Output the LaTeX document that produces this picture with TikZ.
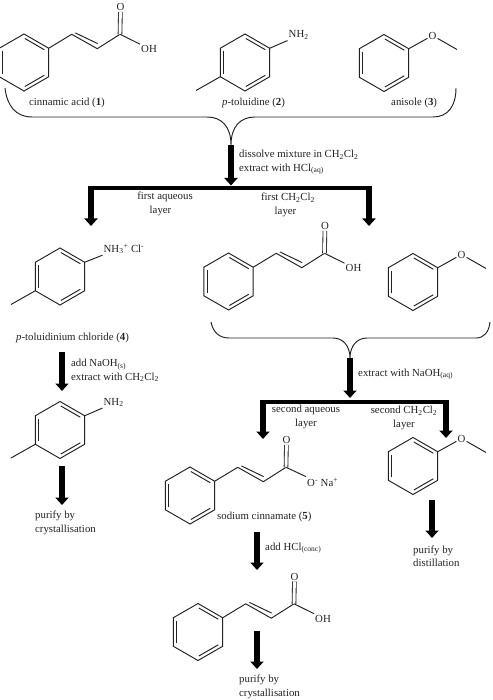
\documentclass[tikz,border=0pt]{standalone}
\usepackage{fontspec}
\setmainfont{Liberation Serif}
\usepackage{xcolor}
\definecolor{clInk}{HTML}{222222}
\usetikzlibrary{arrows.meta}
\newcommand{\sbs}[1]{\textsubscript{#1}}
\newcommand{\sps}[1]{\textsuperscript{#1}}
\tikzset{
  bond/.style={draw=clInk, line width=0.95pt, line join=miter},
  inner/.style={bond, shorten <=1pt, shorten >=1pt},
  carbonyl/.style={draw=clInk, line width=0.85pt, double, double distance=2.9pt},
  atom/.style={inner sep=1pt, text=clInk, font=\fontsize{10.8}{13}\selectfont},
  chemlabel/.style={anchor=west, inner sep=0pt, align=left, text=clInk, font=\fontsize{10.8}{13.5}\selectfont},
  midlabel/.style={chemlabel, anchor=center, align=center},
  brace/.style={draw=clInk, line width=0.95pt},
  fat/.style={line width=6.5pt, -{Triangle[length=7.5pt,width=13pt]}},
  busbar/.style={line width=4.5pt, line cap=square, shorten <=-1pt, shorten >=-1pt},
  busdrop/.style={fat, shorten <=-2.25pt},
  pics/benzring/.style={code={
    \draw[bond] (0,-28.5) -- (24.7,-14.25) -- (24.7,14.25) -- (0,28.5) -- (-24.7,14.25) -- (-24.7,-14.25) -- cycle;
    \draw[inner] (0,-24.5) -- (21.2,-12.25);
    \draw[inner] (21.2,12.25) -- (0,24.5);
    \draw[inner] (-21.2,12.25) -- (-21.2,-12.25);
  }},
  pics/cinnamyl/.style={code={
    \pic {benzring};
    \coordinate (-c) at (96,-28.2);
    \node[atom] (-oxy) at (96.5,-55.5) {O};
    \node[atom, anchor=west] (-tail) at (116,-13.5) {#1};
    \draw[bond] (24.7,-14.25) -- (47.7,-28.2) -- (73.3,-13.8) -- (-c);
    \draw[inner] (50.5,-30) -- (74.5,-18.5);
    \draw[carbonyl] (-c) -- (-oxy);
    \draw[bond] (-c) -- (-tail.north west);
  }},
  pics/toluidine/.style={code={
    \pic {benzring};
    \node[atom, anchor=west] (-amine) at (42.5,-27.5) {#1};
    \draw[bond] (-24.7,14.25) -- (-49,28);
    \draw[bond] (24.7,-14.25) -- (-amine.south west);
  }},
  pics/anisole/.style={code={
    \pic {benzring};
    \node[atom] (-oxy) at (48.5,-27.5) {O};
    \coordinate (-me) at (73,-13.5);
    \draw[bond] (24.7,-14.25) -- (-oxy);
    \draw[bond] (-oxy) -- (-me);
  }},
}
\begin{document}
\begin{tikzpicture}[x=1pt, y=-1pt]
  \useasboundingbox (0,0) rectangle (492,700);
  % starting mixture
  \pic (acidA) at (24,62.5) {cinnamyl=OH};
  \pic (amineA) at (245,62.5) {toluidine={NH\sbs{2}}};
  \pic (etherA) at (384,63) {anisole};
  \node[chemlabel] (lblAcid) at (29,103) {cinnamic acid (\textbf{1})};
  \node[chemlabel] (lblAmine) at (222,103) {\textit{p}-toluidine (\textbf{2})};
  \node[chemlabel] (lblEther) at (391,103) {anisole (\textbf{3})};
  \coordinate (tipA) at (231,145);
  \draw[brace] (5,88) .. controls (7,106) and (16,117) .. (32,117) -- (207,117)
    .. controls (222,117) and (231,127) .. (tipA)
    .. controls (231,127) and (240,117) .. (255,117) -- (433,117)
    .. controls (448,117) and (456,106) .. (456,88);
  % first extraction
  \coordinate (busAl) at (91,188);
  \coordinate (busAr) at (369,188);
  \coordinate (dropAl) at (91,226);
  \coordinate (dropAr) at (369,226);
  \draw[busbar] (busAl) -- (busAr);
  \draw[fat] (tipA) -- (231,185.5);
  \draw[busdrop] (busAl) -- (dropAl);
  \draw[busdrop] (busAr) -- (dropAr);
  \node[chemlabel] (stepDissolve) at (239,155) {dissolve mixture in CH\sbs{2}Cl\sbs{2}};
  \node[chemlabel] (stepAcid) at (239,169) {extract with HCl\sbs{(aq)}};
  \node[midlabel] (lblFirstAq) at (165,204) {first aqueous\\layer\hspace*{9pt}};
  \node[midlabel] (lblFirstOrg) at (288,205) {first CH\sbs{2}Cl\sbs{2}\\layer\hspace*{5pt}};
  % first aqueous layer
  \pic (amineB) at (60,276.5) {toluidine={NH\sbs{3}\sps{+} Cl\sps{-}}};
  \node[chemlabel] (lblSalt) at (16,338) {\textit{p}-toluidinium chloride (\textbf{4})};
  \coordinate (arrBa) at (62,352);
  \coordinate (arrBb) at (62,391);
  \draw[fat] (arrBa) -- (arrBb);
  \node[chemlabel] (stepBase) at (71,370.5) {add NaOH\sbs{(s)}\\extract with CH\sbs{2}Cl\sbs{2}};
  \pic (amineC) at (60,430) {toluidine={NH\sbs{2}}};
  \coordinate (arrCa) at (62,466);
  \coordinate (arrCb) at (62,505);
  \draw[fat] (arrCa) -- (arrCb);
  \node[chemlabel] (lblPurifyA) at (35,523) {purify by\\crystallisation};
  % first organic layer
  \pic (acidB) at (228.5,281.5) {cinnamyl=OH};
  \pic (etherB) at (413,282) {anisole};
  \coordinate (tipB) at (350,358);
  \draw[brace] (211,322) .. controls (213,332) and (219,338) .. (229,338) -- (333,338)
    .. controls (343,338) and (350,346) .. (tipB)
    .. controls (350,346) and (357,338) .. (367,338) -- (476,338)
    .. controls (484,338) and (489,332) .. (490,322);
  % second extraction
  \coordinate (busBl) at (263,402);
  \coordinate (busBr) at (446,402);
  \draw[busbar] (busBl) -- (busBr);
  \draw[fat] (tipB) -- (350,398);
  \draw[busdrop] (busBl) -- (263,439);
  \draw[busdrop] (busBr) -- (446,438);
  \node[chemlabel] (stepBaseB) at (358,374) {extract with NaOH\sbs{(aq)}};
  \node[midlabel] (lblSecondAq) at (306,417) {second aqueous\\layer};
  \node[midlabel] (lblSecondOrg) at (404,418) {second CH\sbs{2}Cl\sbs{2}\\layer};
  % second aqueous layer
  \pic (acidC) at (190,495.5) {cinnamyl={O\sps{-} Na\sps{+}}};
  \node[chemlabel] (lblCinnamate) at (217,517) {sodium cinnamate (\textbf{5})};
  \coordinate (arrDa) at (257,532);
  \coordinate (arrDb) at (257,570);
  \draw[fat] (arrDa) -- (arrDb);
  \node[chemlabel] (stepAcidB) at (265,548) {add HCl\sbs{(conc)}};
  \pic (acidD) at (198,632) {cinnamyl=OH};
  \coordinate (arrEa) at (257,631);
  \coordinate (arrEb) at (257,669);
  \draw[fat] (arrEa) -- (arrEb);
  \node[chemlabel] (lblPurifyB) at (239,687) {purify by\\crystallisation};
  % second organic layer
  \pic (etherC) at (413,466) {anisole};
  \coordinate (arrFa) at (432,500);
  \coordinate (arrFb) at (432,538);
  \draw[fat] (arrFa) -- (arrFb);
  \node[chemlabel] (lblPurifyC) at (413,556) {purify by\\distillation};
\end{tikzpicture}
\end{document}
